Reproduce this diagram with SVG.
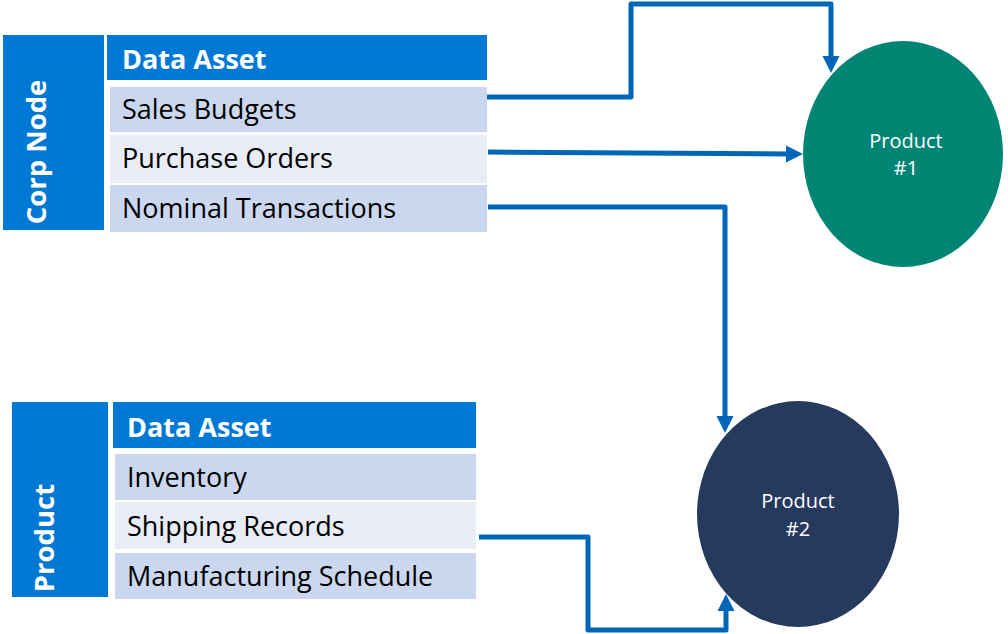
<svg xmlns="http://www.w3.org/2000/svg" width="1008" height="634" viewBox="0 0 1008 634">
<defs>
<style>
.side{fill:#0078D4}
.hdr{fill:#0078D4}
.rowA{fill:#CBD7EE}
.rowB{fill:#E7ECF7}
.ht{font-family:"Open Sans","Noto Sans",sans-serif;font-weight:bold;font-size:27px;fill:#FFFFFF}
.vt{font-family:"Open Sans","Noto Sans",sans-serif;font-weight:bold;font-size:27.5px;fill:#FFFFFF;text-anchor:middle}
.rt{font-family:"Open Sans","Noto Sans",sans-serif;font-size:27px;fill:#000000}
.et{font-family:"Open Sans","Noto Sans",sans-serif;font-size:20px;fill:#FFFFFF;text-anchor:middle}
.conn{fill:none;stroke:#0067B8;stroke-width:5;stroke-linejoin:round}
</style>
<marker id="arr" markerUnits="userSpaceOnUse" markerWidth="18" markerHeight="18" refX="1" refY="8.5" orient="auto" viewBox="0 0 18 17">
<path d="M0,0 L17,8.5 L0,17 z" fill="#0067B8"/>
</marker>
</defs>
<rect width="1008" height="634" fill="#FFFFFF"/>

<g id="corp-node">
<rect class="side" x="3" y="35" width="101" height="195"/>
<text class="vt" transform="translate(46,152) rotate(-90)">Corp Node</text>
<rect class="hdr" x="107" y="35" width="380" height="45"/>
<text class="ht" x="122" y="69">Data Asset</text>
<rect class="rowA" x="110" y="87" width="377" height="45"/>
<text class="rt" x="122" y="119">Sales Budgets</text>
<rect class="rowB" x="110" y="135" width="377" height="48"/>
<text class="rt" x="122" y="168">Purchase Orders</text>
<rect class="rowA" x="110" y="185" width="377" height="47"/>
<text class="rt" x="122" y="218">Nominal Transactions</text>
</g>

<g id="product-node">
<rect class="side" x="12" y="402" width="96" height="195"/>
<text class="vt" transform="translate(54,538) rotate(-90)">Product</text>
<rect class="hdr" x="113" y="402" width="363" height="46"/>
<text class="ht" x="127" y="437">Data Asset</text>
<rect class="rowA" x="115" y="454" width="361" height="46"/>
<text class="rt" x="127" y="487">Inventory</text>
<rect class="rowB" x="115" y="502" width="361" height="47"/>
<text class="rt" x="127" y="536">Shipping Records</text>
<rect class="rowA" x="115" y="553" width="361" height="46"/>
<text class="rt" x="127" y="586">Manufacturing Schedule</text>
</g>

<g id="product1">
<ellipse cx="903" cy="154" rx="100" ry="113" fill="#008575"/>
<text class="et" x="906" y="148">Product</text>
<text class="et" x="906" y="175">#1</text>
</g>

<g id="product2">
<ellipse cx="798" cy="514" rx="101" ry="113" fill="#263A5E"/>
<text class="et" x="798" y="508">Product</text>
<text class="et" x="798" y="536">#2</text>
</g>

<g id="connectors">
<path class="conn" d="M487,97 H631 V4 H831 V57" marker-end="url(#arr)"/>
<path class="conn" d="M488,152 L787,154" marker-end="url(#arr)"/>
<path class="conn" d="M488,207 H725 V417" marker-end="url(#arr)"/>
<path class="conn" d="M479,537 H588 V630 H726 V610" marker-end="url(#arr)"/>
</g>
</svg>
